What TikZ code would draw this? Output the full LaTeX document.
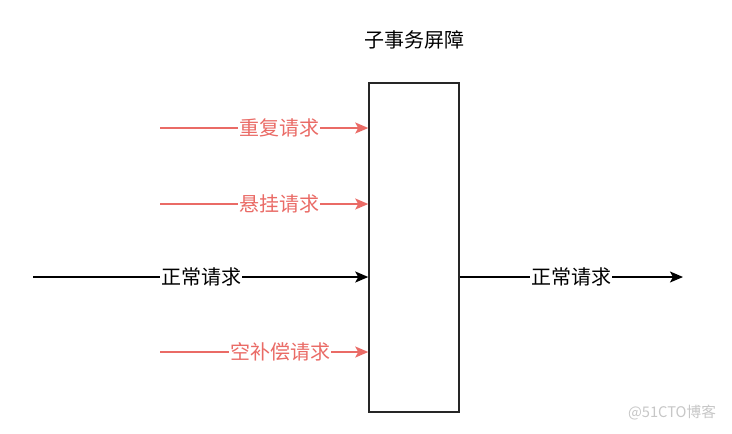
\documentclass[tikz,border=0pt]{standalone}
\usepackage{fontspec}
\setmainfont{Noto Sans CJK SC}
\usetikzlibrary{arrows.meta}
\definecolor{redline}{HTML}{EA6B66}
\begin{document}
\begin{tikzpicture}[x=0.75pt,y=-0.75pt,
  lbl/.style={fill=white,inner sep=1pt,font=\fontsize{15}{18}\selectfont},
  tip/.style={-{Stealth[length=13pt*0.75,width=11pt*0.75,inset=2.2pt]}},
  redarrow/.style={draw=redline,line width=1.1pt,tip},
  blackarrow/.style={draw=black,line width=1.1pt,tip},
  box/.style={draw=black!85,line width=1.1pt,fill=white}]
\useasboundingbox (0,0) rectangle (732,433);
\fill[white] (0,0) rectangle (732,433);
% barrier box
\node[box,minimum width=90*0.75pt,minimum height=329*0.75pt,inner sep=0pt] (bar) at (414,247.5) {};
\node[font=\fontsize{15}{18}\selectfont] (title) at (414,40) {子事务屏障};
% start coordinates
\coordinate (s1) at (160,128);
\coordinate (s2) at (160,204);
\coordinate (s3) at (33,277);
\coordinate (s4) at (160,352);
\coordinate (e5) at (683,277);
\coordinate (t1) at (bar.west |- s1);
\coordinate (t2) at (bar.west |- s2);
\coordinate (t3) at (bar.west |- s3);
\coordinate (t4) at (bar.west |- s4);
\coordinate (o5) at (bar.east |- e5);
\draw[redarrow] (s1) -- (t1);
\draw[redarrow] (s2) -- (t2);
\draw[blackarrow] (s3) -- (t3);
\draw[redarrow] (s4) -- (t4);
\draw[blackarrow] (o5) -- (e5);
\node[lbl,text=redline] (l1) at (279,128) {重复请求};
\node[lbl,text=redline] (l2) at (279,204) {悬挂请求};
\node[lbl] (l3) at (201,277) {正常请求};
\node[lbl,text=redline] (l4) at (280,352) {空补偿请求};
\node[lbl] (l5) at (571,277) {正常请求};
\node[text=black!22,font=\fontsize{11}{13}\selectfont,inner sep=0pt] (wm) at (672,413) {@51CTO博客};
\end{tikzpicture}
\end{document}
